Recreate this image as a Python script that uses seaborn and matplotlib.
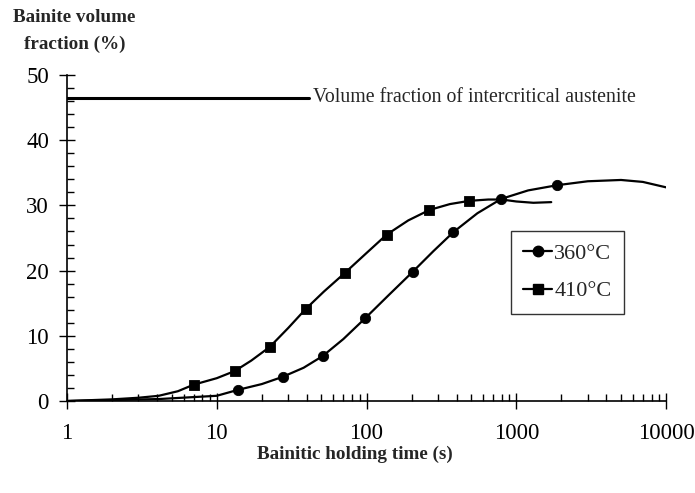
import numpy as np
import pandas as pd
import matplotlib
matplotlib.use("Agg")
import matplotlib.pyplot as plt
from matplotlib.lines import Line2D
from matplotlib.ticker import FixedLocator, FixedFormatter, MultipleLocator, NullFormatter
import seaborn as sns

t360_pts = [13.8, 27.5, 51, 98, 203, 380, 794, 1877]
f360_pts = [1.7, 3.7, 6.9, 12.7, 19.8, 25.9, 31.0, 33.1]
t360_curve = [1, 2, 4.1, 7, 10, 13.8, 20, 27.5, 38, 51, 70, 98, 140, 203, 280, 380,
              550, 794, 1200, 1877, 3000, 5000, 7000, 10300]
f360_curve = [0.0, 0.15, 0.3, 0.6, 0.8, 1.7, 2.6, 3.7, 5.1, 6.9, 9.5, 12.7, 16.2, 19.8,
              23.0, 25.9, 28.8, 31.0, 32.3, 33.1, 33.7, 33.9, 33.6, 32.7]

# 410 C
t410_pts = [7.0, 13.2, 22.6, 39.2, 71.3, 136, 263, 486]
f410_pts = [2.5, 4.6, 8.3, 14.1, 19.6, 25.5, 29.3, 30.7]
t410_curve = [1, 2, 3, 4.1, 5.5, 7.0, 10, 13.2, 17, 22.6, 30, 39.2, 52, 71.3, 100, 136,
              190, 263, 360, 486, 650, 800, 1000, 1300, 1711]
f410_curve = [0.0, 0.25, 0.5, 0.8, 1.5, 2.5, 3.5, 4.6, 6.2, 8.3, 11.2, 14.1, 16.8, 19.6,
              22.7, 25.5, 27.7, 29.3, 30.2, 30.7, 30.9, 30.9, 30.6, 30.4, 30.5]

austenite_t = [1, 41]
austenite_f = [46.5, 46.5]

series_labels = ["360°C", "410°C"]
x_ticks = [1, 10, 100, 1000, 10000]
x_ticklabels = ["1", "10", "100", "1000", "10000"]

sns.set_style("ticks")
plt.rcParams["font.family"] = ["Liberation Serif", "DejaVu Serif"]

fig = plt.figure(figsize=(6.95, 4.93), dpi=100)
ax = fig.add_axes([0.0964, 0.1866, 0.862, 0.6613])

curve360 = pd.DataFrame({"t": t360_curve, "f": f360_curve})
curve410 = pd.DataFrame({"t": t410_curve, "f": f410_curve})
sns.lineplot(data=curve360, x="t", y="f", color="black", linewidth=1.6, ax=ax, estimator=None, sort=False)
sns.lineplot(data=curve410, x="t", y="f", color="black", linewidth=1.6, ax=ax, estimator=None, sort=False)
sns.scatterplot(x=t360_pts, y=f360_pts, marker="o", s=55, color="black", edgecolor="black", ax=ax, zorder=3)
sns.scatterplot(x=t410_pts, y=f410_pts, marker="s", s=55, color="black", edgecolor="black", ax=ax, zorder=3)
ax.plot(austenite_t, austenite_f, color="black", linewidth=2.2)
ax.text(44, 46.5, "Volume fraction of intercritical austenite", fontsize=14.3,
        va="center", ha="left")

ax.set_xscale("log")
ax.set_xlim(1, 10000)
ax.set_ylim(0, 50)
ax.xaxis.set_major_locator(FixedLocator(x_ticks))
ax.xaxis.set_major_formatter(FixedFormatter(x_ticklabels))
ax.xaxis.set_minor_locator(FixedLocator([m * d for d in x_ticks[:-1] for m in range(2, 10)]))
ax.xaxis.set_minor_formatter(NullFormatter())
ax.yaxis.set_major_locator(MultipleLocator(10))
ax.yaxis.set_minor_locator(MultipleLocator(2))

ax.tick_params(axis="both", which="major", direction="inout", length=12, width=1,
               labelsize=16.5, colors="black")
ax.tick_params(axis="x", which="major", pad=10)
ax.tick_params(axis="y", which="major", pad=7)
ax.tick_params(axis="both", which="minor", direction="in", length=5, width=1, colors="black")
for side in ["top", "right"]:
    ax.spines[side].set_visible(False)
for side in ["left", "bottom"]:
    ax.spines[side].set_color("black")
    ax.spines[side].set_linewidth(1.2)

ax.set_xlabel("")
ax.set_ylabel("")
fig.text(0.511, 0.079, "Bainitic holding time (s)", ha="center", va="center",
         fontsize=13.8, fontweight="bold")
fig.text(0.107, 0.937, "Bainite volume\nfraction (%)", ha="center", va="center",
         fontsize=13.8, fontweight="bold", linespacing=1.7)

handles = [
    Line2D([], [], color="black", linewidth=1.6, marker="o", markersize=7.5),
    Line2D([], [], color="black", linewidth=1.6, marker="s", markersize=7),
]
leg = ax.legend(handles, series_labels, loc="upper left", bbox_to_anchor=(0.741, 0.52),
                fontsize=16, frameon=True, fancybox=False, edgecolor="black",
                handlelength=1.3, handletextpad=0.1, borderpad=0.55, labelspacing=0.75,
                borderaxespad=0)
leg.get_frame().set_linewidth(1.0)

fig.savefig("out.png", dpi=100)
